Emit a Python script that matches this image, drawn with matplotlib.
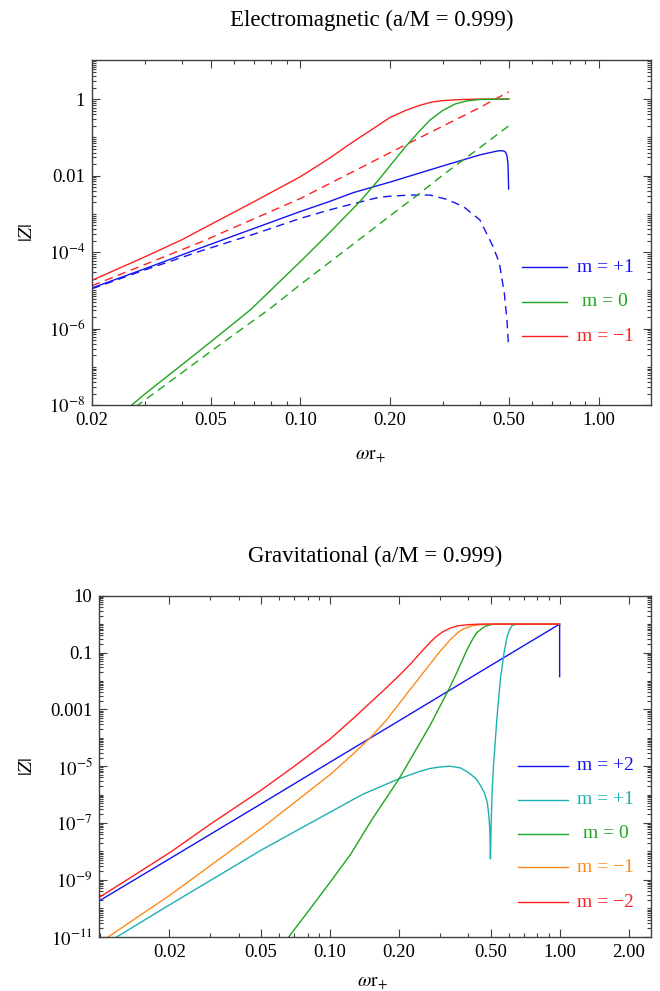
import numpy as np
import matplotlib
matplotlib.use('Agg')
import matplotlib.pyplot as plt
from matplotlib.ticker import FixedLocator, FixedFormatter, NullFormatter

plt.rcParams['font.family'] = ['Liberation Serif', 'DejaVu Serif']
plt.rcParams['mathtext.fontset'] = 'stix'

# ---------------- Electromagnetic (a/M = 0.999): log10 |Z| ----------------
em_p1_x = [0.02, 0.03, 0.046, 0.07, 0.1, 0.125, 0.15, 0.2, 0.3, 0.4, 0.45, 0.465, 0.48, 0.488, 0.493, 0.497, 0.4995]
em_p1_y = [-4.94, -4.44, -3.9, -3.38, -2.94, -2.68, -2.45, -2.17, -1.75, -1.46, -1.37, -1.35, -1.355, -1.39, -1.48, -1.7, -2.35]
em_p1d_x = [0.02, 0.03, 0.046, 0.07, 0.1, 0.125, 0.15, 0.183, 0.2, 0.233, 0.272, 0.309, 0.352, 0.4, 0.443, 0.465, 0.483, 0.493, 0.4985]
em_p1d_y = [-4.96, -4.47, -3.98, -3.53, -3.12, -2.9, -2.74, -2.57, -2.54, -2.51, -2.51, -2.62, -2.81, -3.16, -3.86, -4.29, -5.07, -5.77, -6.42]
em_0_x = [0.0272, 0.03, 0.04, 0.05, 0.068, 0.1, 0.125, 0.157, 0.185, 0.2, 0.225, 0.25, 0.272, 0.3, 0.33, 0.36, 0.4, 0.5]
em_0_y = [-8.0, -7.72, -6.95, -6.35, -5.51, -4.25, -3.5, -2.71, -2.07, -1.74, -1.25, -0.85, -0.55, -0.3, -0.13, -0.05, -0.01, 0.0]
em_0d_x = [0.028, 0.05, 0.08, 0.1, 0.15, 0.2, 0.25, 0.3, 0.4, 0.5]
em_0d_y = [-8.05, -6.6, -5.45, -4.85, -3.8, -3.05, -2.48, -1.99, -1.27, -0.70]
em_m1_x = [0.02, 0.03, 0.04, 0.05, 0.07, 0.1, 0.125, 0.15, 0.175, 0.2, 0.225, 0.25, 0.275, 0.3, 0.35, 0.4, 0.5]
em_m1_y = [-4.74, -4.13, -3.68, -3.28, -2.68, -2.03, -1.55, -1.12, -0.78, -0.48, -0.30, -0.17, -0.08, -0.04, -0.01, 0.0, 0.0]
em_m1d_x = [0.02, 0.03, 0.046, 0.068, 0.1, 0.15, 0.2, 0.3, 0.4, 0.5]
em_m1d_y = [-4.88, -4.33, -3.75, -3.17, -2.60, -1.90, -1.40, -0.71, -0.22, 0.19]

em_labels = ['m = +1', 'm = 0', 'm = \u22121']
em_xticks = [0.02, 0.05, 0.10, 0.20, 0.50, 1.00]
em_xticklabels = ['0.02', '0.05', '0.10', '0.20', '0.50', '1.00']
em_yticks = [1e-8, 1e-6, 1e-4, 1e-2, 1.0]
em_yticklabels = [r'$10^{-8}$', r'$10^{-6}$', r'$10^{-4}$', '0.01', '1']

# ---------------- Gravitational (a/M = 0.999): log10 |Z| ----------------
gr_p2_x = [0.0097, 0.02, 0.05, 0.1, 0.2, 0.5, 1.0, 1.0]
gr_p2_y = [-9.78, -8.26, -6.33, -4.86, -3.40, -1.46, 0.0, -1.85]
gr_p1_x = [0.0113, 0.02, 0.05, 0.1, 0.138, 0.2, 0.247, 0.273, 0.3, 0.333, 0.37, 0.4, 0.43, 0.45, 0.47, 0.484,
           0.492, 0.497, 0.4995, 0.5005, 0.503, 0.508, 0.516, 0.534, 0.552, 0.57, 0.59, 0.605, 0.621, 0.65, 1.0]
gr_p1_y = [-11.1, -9.88, -7.96, -6.62, -6.0, -5.44, -5.18, -5.08, -5.03, -5.0, -5.06, -5.22, -5.42, -5.65, -5.93, -6.27,
           -6.75, -7.3, -8.26, -8.0, -7.1, -5.9, -4.9, -3.25, -1.94, -1.12, -0.45, -0.2, -0.05, 0.0, 0.0]
gr_0_x = [0.0655, 0.08, 0.1, 0.123, 0.15, 0.2, 0.25, 0.273, 0.3, 0.329, 0.355, 0.38, 0.395, 0.42, 0.436, 0.47, 0.5, 0.52, 1.0]
gr_0_y = [-11.05, -10.13, -9.09, -8.1, -6.96, -5.44, -4.09, -3.56, -2.92, -2.30, -1.74, -1.21, -0.9, -0.5, -0.3, -0.09, -0.02, 0.0, 0.0]
gr_m1_x = [0.0105, 0.02, 0.03, 0.05, 0.07, 0.1, 0.125, 0.15, 0.175, 0.2, 0.247, 0.273, 0.3, 0.334, 0.36, 0.38, 0.42, 0.47, 0.5, 1.0]
gr_m1_y = [-11.08, -9.55, -8.51, -7.2, -6.28, -5.3, -4.6, -3.99, -3.4, -2.8, -1.85, -1.4, -0.98, -0.55, -0.3, -0.17, -0.05, -0.01, 0.0, 0.0]
gr_m2_x = [0.0097, 0.02, 0.03, 0.05, 0.07, 0.1, 0.127, 0.15, 0.175, 0.2, 0.225, 0.247, 0.273, 0.29, 0.31, 0.334, 0.36, 0.4, 0.45, 1.0]
gr_m2_y = [-9.66, -8.05, -7.05, -5.85, -5.0, -4.05, -3.30, -2.76, -2.26, -1.81, -1.39, -1.02, -0.64, -0.44, -0.27, -0.14, -0.06, -0.02, 0.0, 0.0]

gr_labels = ['m = +2', 'm = +1', 'm = 0', 'm = \u22121', 'm = \u22122']
gr_xticks = [0.02, 0.05, 0.10, 0.20, 0.50, 1.00, 2.00]
gr_xticklabels = ['0.02', '0.05', '0.10', '0.20', '0.50', '1.00', '2.00']
gr_yticks = [1e-11, 1e-9, 1e-7, 1e-5, 1e-3, 1e-1, 10.0]
gr_yticklabels = [r'$10^{-11}$', r'$10^{-9}$', r'$10^{-7}$', r'$10^{-5}$', '0.001', '0.1', '10']

BLUE = '#1414f0'
CYAN = '#1eb0b0'
GREEN = '#1fa51f'
ORANGE = '#ff8a1c'
RED = '#ff2020'
SPINE = '#404040'
LW = 1.0
DASH = (0, (6, 4))


def minor_list(lo_exp, hi_exp, majors):
    out = []
    for e in range(lo_exp, hi_exp + 1):
        for k in range(1, 10):
            v = k * 10.0 ** e
            if not any(abs(v - m) / m < 1e-6 for m in majors):
                out.append(v)
    return out


def style_axes(ax, xlim, ylim, xt, xtl, yt, ytl):
    ax.set_xscale('log')
    ax.set_yscale('log')
    ax.set_xlim(*xlim)
    ax.set_ylim(*ylim)
    ax.xaxis.set_major_locator(FixedLocator(xt))
    ax.xaxis.set_major_formatter(FixedFormatter(xtl))
    ax.xaxis.set_minor_locator(FixedLocator(minor_list(-3, 1, xt)))
    ax.xaxis.set_minor_formatter(NullFormatter())
    ax.yaxis.set_major_locator(FixedLocator(yt))
    ax.yaxis.set_major_formatter(FixedFormatter(ytl))
    ax.yaxis.set_minor_locator(FixedLocator(minor_list(-13, 2, yt)))
    ax.yaxis.set_minor_formatter(NullFormatter())
    ax.tick_params(which='both', direction='in', top=True, right=True,
                   color=SPINE, width=0.8, labelsize=13.5, labelcolor='black')
    ax.tick_params(which='major', length=6, pad=5)
    ax.tick_params(which='minor', length=3)
    for s in ax.spines.values():
        s.set_color(SPINE)
        s.set_linewidth(1.0)


def L(v):
    return 10.0 ** np.asarray(v)


fig = plt.figure(figsize=(6.6, 9.91), dpi=100)

# ---- top panel ----
ax1 = fig.add_axes([0.1394, 0.5913, 0.847, 0.3481])
ax1.plot(em_p1_x, L(em_p1_y), color=BLUE, lw=LW)
ax1.plot(em_p1d_x, L(em_p1d_y), color=BLUE, lw=LW, ls=DASH)
ax1.plot(em_m1_x, L(em_m1_y), color=RED, lw=LW)
ax1.plot(em_m1d_x, L(em_m1d_y), color=RED, lw=LW, ls=DASH)
ax1.plot(em_0_x, L(em_0_y), color=GREEN, lw=LW)
ax1.plot(em_0d_x, L(em_0d_y), color=GREEN, lw=LW, ls=DASH)
style_axes(ax1, (0.02, 1.5), (1e-8, 10 ** 1.02), em_xticks, em_xticklabels, em_yticks, em_yticklabels)

for lab, c, yy in zip(em_labels, [BLUE, GREEN, RED], [0.399, 0.2994, 0.2]):
    ax1.plot([0.7687, 0.8503], [yy, yy], transform=ax1.transAxes, color=c, lw=LW)
    ax1.text(0.918, yy, lab, transform=ax1.transAxes, color=c, ha='center', va='center', fontsize=14)

# ---- bottom panel ----
ax2 = fig.add_axes([0.1505, 0.0548, 0.8359, 0.3441])
ax2.plot(gr_p2_x, L(gr_p2_y), color=BLUE, lw=LW)
ax2.plot(gr_p1_x, L(gr_p1_y), color=CYAN, lw=LW)
ax2.plot(gr_0_x, L(gr_0_y), color=GREEN, lw=LW)
ax2.plot(gr_m1_x, L(gr_m1_y), color=ORANGE, lw=LW)
ax2.plot(gr_m2_x, L(gr_m2_y), color=RED, lw=LW)
style_axes(ax2, (0.0099, 2.5), (1e-11, 10.0), gr_xticks, gr_xticklabels, gr_yticks, gr_yticklabels)

for lab, c, yy in zip(gr_labels, [BLUE, CYAN, GREEN, ORANGE, RED], [0.5015, 0.4009, 0.3012, 0.2035, 0.1009]):
    ax2.plot([0.7595, 0.8501], [yy, yy], transform=ax2.transAxes, color=c, lw=LW)
    ax2.text(0.918, yy, lab, transform=ax2.transAxes, color=c, ha='center', va='center', fontsize=14)

# ---- titles and axis labels ----
fig.text(371.5 / 660, 1 - 20 / 991, 'Electromagnetic (a/M = 0.999)', ha='center', va='center', fontsize=16.5)
fig.text(375 / 660, 1 - 556 / 991, 'Gravitational (a/M = 0.999)', ha='center', va='center', fontsize=16.5)
fig.text(28 / 660, 1 - 232.5 / 991, r'$|Z|$', rotation=90, ha='center', va='center', fontsize=14)
fig.text(28 / 660, 1 - 766.5 / 991, r'$|Z|$', rotation=90, ha='center', va='center', fontsize=14)
fig.text(370 / 660, 1 - 457 / 991, r'$\omega\mathrm{r}_{+}$', ha='center', va='center', fontsize=14)
fig.text(372 / 660, 1 - 984 / 991, r'$\omega\mathrm{r}_{+}$', ha='center', va='center', fontsize=14)

fig.savefig('out.png', dpi=100)
